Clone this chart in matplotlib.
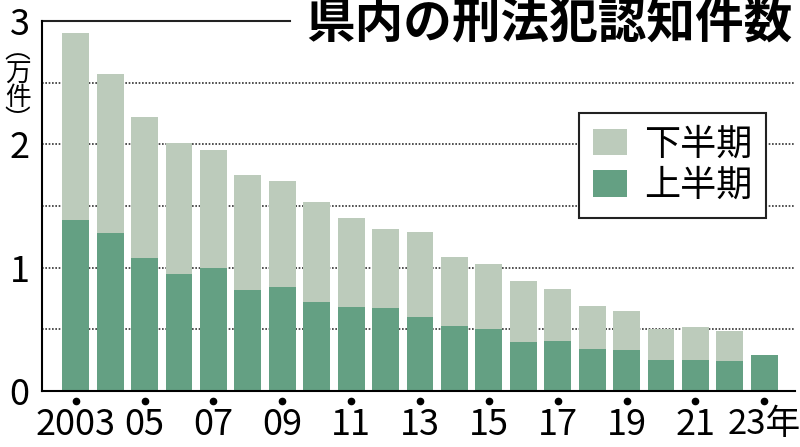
#Libraries importation:--------------------------------------------------------

import numpy as np
import matplotlib
matplotlib.use("Agg")
import matplotlib.pyplot as plt
import matplotlib.transforms as mtransforms
from matplotlib.patches import Patch

#Data:-------------------------------------------------------------------------

years = np.arange(2003,2024)

#First half (上半期) and second half (下半期), unit: 10,000 cases
first_half = [1.39,1.28,1.08,0.95,1.00,0.82,0.84,0.72,0.68,0.67,0.60,
              0.53,0.50,0.40,0.405,0.34,0.33,0.25,0.255,0.24,0.29]
second_half = [1.51,1.29,1.14,1.06,0.95,0.93,0.86,0.81,0.725,0.64,0.69,
               0.557,0.53,0.49,0.42,0.35,0.315,0.25,0.26,0.247,0.0]

tick_years = years[::2]
tick_labels = ["2003","05","07","09","11","13","15","17","19","21","23年"]

y_ticks = [0,1,2,3]
y_labels = ["0","1","2","3"]
grid_levels = [0.5,1.0,1.5,2.0,2.5]

title = "県内の刑法犯認知件数"
unit = "︵万件︶"
legend_labels = ["下半期","上半期"]

#Style:------------------------------------------------------------------------

color_first = "#64a083"
color_second = "#bccbbb"
cjk = "Noto Sans CJK JP"
narrow = ["Liberation Sans Narrow","DejaVu Sans Condensed",cjk]

plt.rcParams['font.family'] = [cjk,'DejaVu Sans']

#Figure:-----------------------------------------------------------------------

fig = plt.figure(figsize=(8,4.47),dpi=100)
ax = fig.add_axes([0.0525,0.1253,0.9415,0.828])

for level in grid_levels:
    ax.axhline(level,color="#333333",linestyle=(0,(1,1)),linewidth=1.2,zorder=1)

ax.bar(years,first_half,width=0.78,color=color_first,zorder=2)
ax.bar(years,second_half,width=0.78,bottom=first_half,color=color_second,zorder=2)

ax.set_xlim(2002.02,2023.9)
ax.set_ylim(0,3)

ax.spines['right'].set_visible(False)
ax.spines['top'].set_visible(False)
ax.spines['left'].set_linewidth(1.5)
ax.spines['bottom'].set_linewidth(1.5)
ax.plot([0,0.329],[1,1],transform=ax.transAxes,color="#222222",
        linewidth=1.5,clip_on=False)

ax.set_yticks(y_ticks)
ax.set_yticklabels(y_labels,fontsize=26)
ax.tick_params(axis='y',length=0,pad=9)

ax.set_xticks(tick_years)
ax.set_xticklabels(tick_labels,fontsize=26)
ax.tick_params(axis='x',length=0,pad=11.5)
for lab in ax.get_xticklabels():
    lab.set_fontfamily(narrow)
ax.get_xticklabels()[-1].set_fontsize(25)

#Dot tick marks below the axis
trans = mtransforms.blended_transform_factory(ax.transData,ax.transAxes)
ax.plot(tick_years,[-0.027]*len(tick_years),"o",color="black",markersize=4.5,
        transform=trans,clip_on=False)

#Legend:-----------------------------------------------------------------------

handles = [Patch(facecolor=color_second),Patch(facecolor=color_first)]
leg = ax.legend(handles,legend_labels,loc="upper right",
                bbox_to_anchor=(0.961,0.751),borderaxespad=0,fontsize=26,
                frameon=True,fancybox=False,framealpha=1,
                edgecolor="#222222",handlelength=0.95,handleheight=0.75,
                handletextpad=0.45,labelspacing=0.15,borderpad=0.38)
leg.get_frame().set_linewidth(1.5)

#Texts:------------------------------------------------------------------------

fig.text(0.991,0.913,title,ha="right",va="baseline",fontsize=35,
         fontweight="bold",color="black")
fig.text(0.022,0.807,"\n".join(unit),ha="center",va="center",fontsize=18.5,
         linespacing=0.86)

fig.savefig("out.png",dpi=100)
